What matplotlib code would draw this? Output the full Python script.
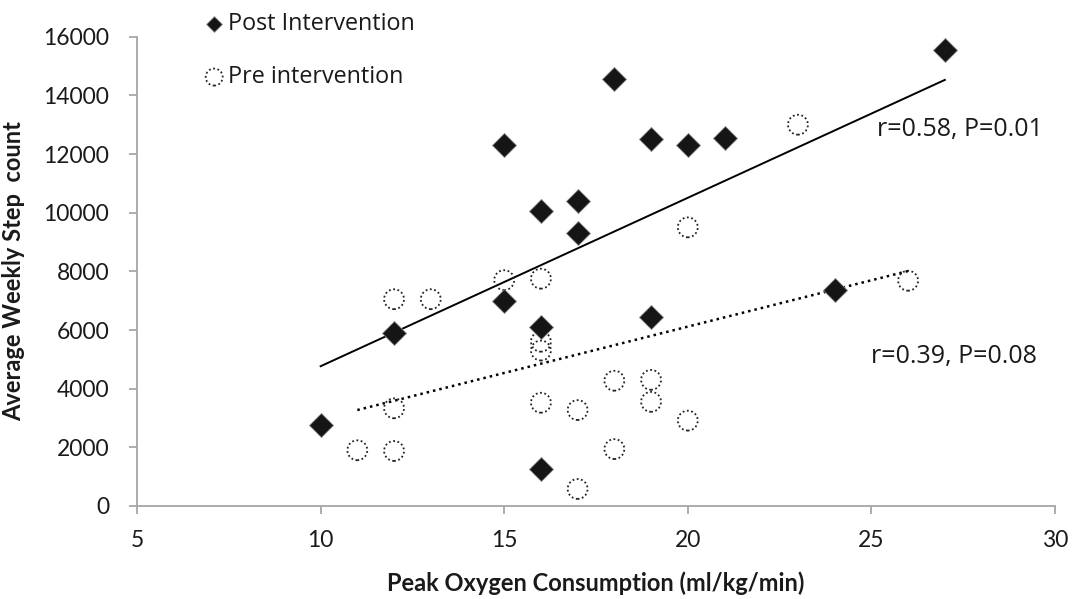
import matplotlib
matplotlib.use('Agg')
import matplotlib.pyplot as plt
import numpy as np

# Peak VO2 (ml/kg/min) vs average weekly step count
post_vo2 = [10, 12, 15, 18, 19, 20, 21, 16, 17, 17, 15, 16, 19, 16, 27, 24]
post_steps = [2750, 5900, 12300, 14550, 12500, 12300, 12550, 10050, 10400,
              9300, 7000, 6100, 6450, 1250, 15550, 7350]

pre_vo2 = [12, 13, 15, 12, 11, 12, 16, 16, 16, 18, 19, 16, 17, 19, 20, 18,
           17, 20, 23, 26]
pre_steps = [7050, 7050, 7700, 3330, 1900, 1875, 7750, 5600, 5300, 4270, 4300,
             3520, 3270, 3550, 2910, 1940, 580, 9500, 13000, 7680]

post_label = 'r=0.58, P=0.01'
pre_label = 'r=0.39, P=0.08'

x_ticks = [5, 10, 15, 20, 25, 30]
y_ticks = [0, 2000, 4000, 6000, 8000, 10000, 12000, 14000, 16000]

TICK_FONT = 'Lato'
TEXT_FONT = 'Open Sans'
AXIS_GREY = '#a6a6a6'
INK = '#1a1a1a'

fig = plt.figure(figsize=(10.73, 5.99), dpi=100)
ax = fig.add_axes([0.1277, 0.1553, 0.8555, 0.7834])

# trend lines (least squares, drawn over the data range)
for xs, ys, style, lw in [(post_vo2, post_steps, '-', 1.4),
                          (pre_vo2, pre_steps, (0, (1, 1.6)), 1.8)]:
    slope, icpt = np.polyfit(xs, ys, 1)
    xr = np.array([min(xs), max(xs)])
    ax.plot(xr, slope * xr + icpt, color='black', linestyle=style,
            linewidth=lw, zorder=2)

pre_kw = dict(marker='o', facecolors='none', edgecolors='#222222',
              linewidths=1.3, linestyle=(0, (1, 1.4)))
post_kw = dict(marker='D', color='#151515', edgecolors='#8a8a8a',
               linewidths=0.6)
ax.scatter(pre_vo2, pre_steps, s=205, zorder=3, **pre_kw)
ax.scatter(post_vo2, post_steps, s=150, zorder=4, **post_kw)

ax.text(25.15, 12820, post_label, fontsize=18, family=TEXT_FONT,
        va='center', ha='left', color=INK)
ax.text(25.0, 5080, pre_label, fontsize=18, family=TEXT_FONT,
        va='center', ha='left', color=INK)

ax.set_xlim(5, 30)
ax.set_ylim(0, 16000)
ax.set_xticks(x_ticks)
ax.set_yticks(y_ticks)
for lbl in ax.get_xticklabels() + ax.get_yticklabels():
    lbl.set_family(TICK_FONT)
    lbl.set_fontsize(16.5)
    lbl.set_color(INK)

for side in ['top', 'right']:
    ax.spines[side].set_visible(False)
for side in ['left', 'bottom']:
    ax.spines[side].set_color(AXIS_GREY)
    ax.spines[side].set_linewidth(1.3)
ax.tick_params(axis='x', direction='out', length=6, width=1.3,
               color=AXIS_GREY, pad=11)
ax.tick_params(axis='y', direction='out', length=6, width=1.3,
               color=AXIS_GREY, pad=14)

ax.set_xlabel('Peak Oxygen Consumption (ml/kg/min)', fontsize=17,
              fontweight='bold', family=TICK_FONT, color=INK)
ax.set_ylabel('Average Weekly Step  count', fontsize=17,
              fontweight='bold', family=TICK_FONT, color=INK)
ax.xaxis.set_label_coords(0.5, -0.14)
ax.yaxis.set_label_coords(-0.122, 0.5)

# legend handles: empty scatters so the pre circle keeps its dotted rim
h_post = ax.scatter([], [], s=64, **post_kw)
h_pre = ax.scatter([], [], s=150, **pre_kw)
leg = fig.legend([h_post, h_pre], ['Post Intervention', 'Pre intervention'],
                 loc='upper left', bbox_to_anchor=(0.167, 1.015),
                 frameon=False, labelspacing=1.25, scatterpoints=1,
                 handletextpad=0.0, handlelength=1.2,
                 prop={'family': TEXT_FONT, 'size': 16.8})
for t in leg.get_texts():
    t.set_color(INK)

fig.savefig('out.png', dpi=100)
